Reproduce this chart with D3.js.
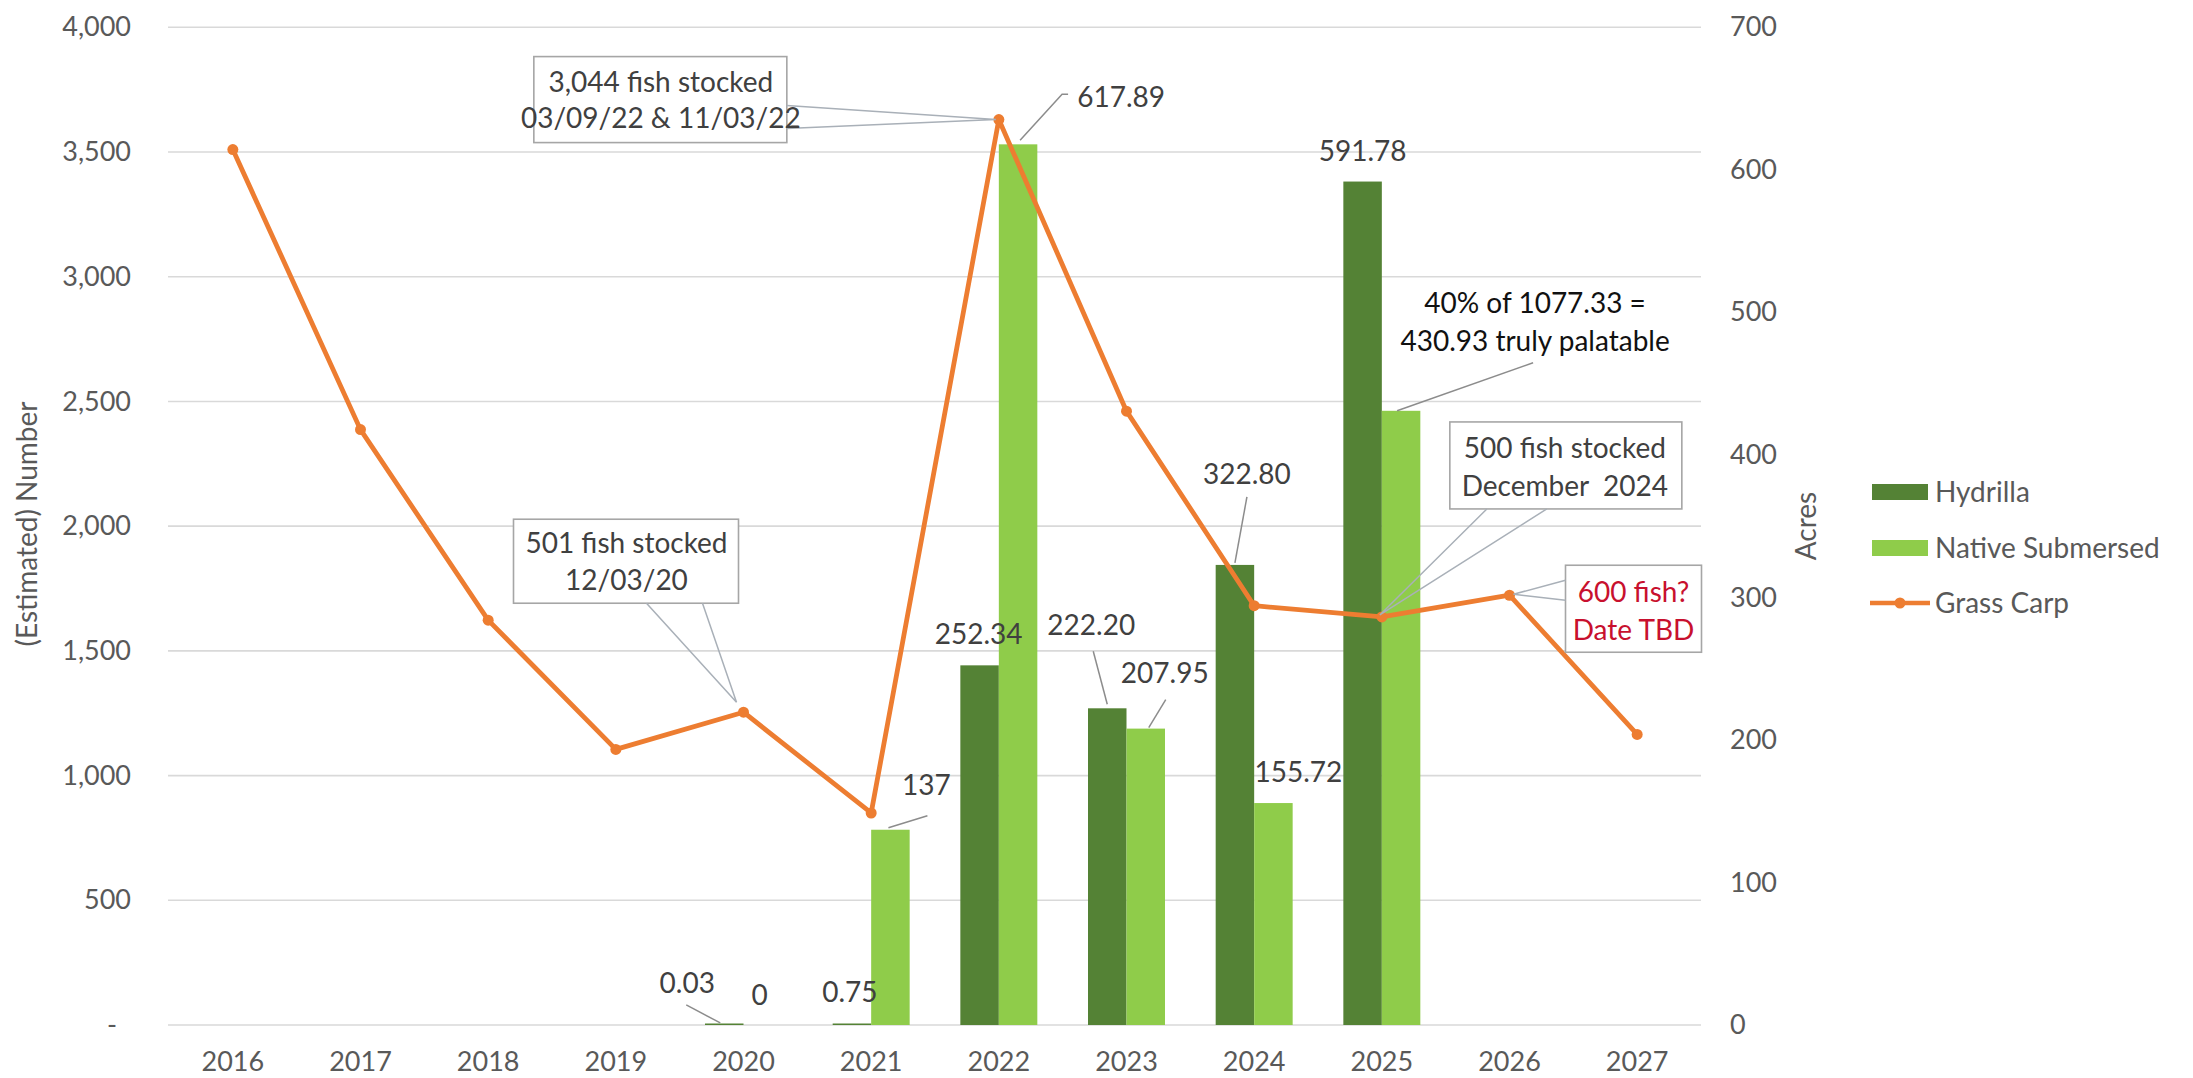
<!DOCTYPE html>
<html>
<head>
<meta charset="utf-8">
<script src="https://cdn.jsdelivr.net/npm/d3@7"></script>
<style>
  html, body { margin: 0; padding: 0; background: #ffffff; }
  svg { display: block; font-family: Lato, "Open Sans", sans-serif; }
</style>
</head>
<body>
<svg id="chart" width="2193" height="1078"></svg>
<script>
// ---- data ----
const years = ["2016", "2017", "2018", "2019", "2020", "2021", "2022", "2023", "2024", "2025", "2026", "2027"];
const hydrilla = [null, null, null, null, 0.03, 0.75, 252.34, 222.20, 322.80, 591.78, null, null];
const nativeSubmersed = [null, null, null, null, 0, 137, 617.89, 207.95, 155.72, 430.93, null, null];
const grassCarp = [3510, 2387, 1623, 1105, 1254, 850, 3630, 2461, 1681, 1636, 1723, 1165];
const numberTicks = [0, 500, 1000, 1500, 2000, 2500, 3000, 3500, 4000];
const acreTicks = [0, 100, 200, 300, 400, 500, 600, 700];
const seriesNames = ["Hydrilla", "Native Submersed", "Grass Carp"];

// ---- layout ----
const plot = { left: 169, right: 1701, top: 27.3, bottom: 1025 };
const colors = { hydrilla: "#548235", native: "#8fcc4a", carp: "#ed7d31", grid: "#d9d9d9", tick: "#595959", label: "#404040", red: "#c8102e" };

const svg = d3.select("#chart");

const x = d3.scaleBand().domain(years).range([plot.left, plot.right]).padding(0);
const bw = x.bandwidth();
const groupW = bw * 0.603;
const x1 = d3.scaleBand().domain(["hydrilla", "native"]).range([(bw - groupW) / 2, (bw + groupW) / 2]);
const yN = d3.scaleLinear().domain([0, 4000]).range([plot.bottom, plot.top]);
const yA = d3.scaleLinear().domain([0, 700]).range([plot.bottom, plot.top]);

// gridlines on the number scale
svg.append("g").selectAll("line").data(numberTicks).join("line")
  .attr("x1", plot.left - 1).attr("x2", plot.right)
  .attr("y1", d => yN(d)).attr("y2", d => yN(d))
  .attr("stroke", colors.grid).attr("stroke-width", 1.6);

// axes
function styleAxis(g) {
  g.select(".domain").remove();
  g.attr("font-family", "Lato, 'Open Sans', sans-serif").attr("font-size", 27);
  g.selectAll("text").attr("fill", colors.tick);
}
svg.append("g").attr("transform", `translate(${plot.left},0)`)
  .call(d3.axisLeft(yN).tickValues(numberTicks).tickSize(0).tickPadding(38)
    .tickFormat(d => d === 0 ? "-" : d3.format(",")(d)))
  .call(styleAxis)
  .call(g => g.selectAll(".tick text").filter(d => d === 0).attr("x", -52));

svg.append("g").attr("transform", `translate(${plot.right},0)`)
  .call(d3.axisRight(yA).tickValues(acreTicks).tickSize(0).tickPadding(29))
  .call(styleAxis);

svg.append("g").attr("transform", `translate(0,${plot.bottom})`)
  .call(d3.axisBottom(x).tickSize(0).tickPadding(27))
  .call(styleAxis);

// axis titles
svg.append("text").attr("transform", "translate(27,524) rotate(-90)")
  .attr("text-anchor", "middle").attr("dy", "0.35em")
  .attr("font-size", 28).attr("fill", colors.tick).text("(Estimated) Number");
svg.append("text").attr("transform", "translate(1806,526) rotate(-90)")
  .attr("text-anchor", "middle").attr("dy", "0.35em")
  .attr("font-size", 28).attr("fill", colors.tick).text("Acres");

// bars
const barData = years.flatMap((yr, i) => [
  { yr, key: "hydrilla", v: hydrilla[i] },
  { yr, key: "native", v: nativeSubmersed[i] }
]).filter(d => d.v != null && d.v > 0);

svg.append("g").selectAll("rect").data(barData).join("rect")
  .attr("x", d => x(d.yr) + x1(d.key))
  .attr("width", x1.bandwidth())
  .attr("y", d => Math.min(yA(d.v), plot.bottom - 1.5))
  .attr("height", d => Math.max(plot.bottom - yA(d.v), 1.5))
  .attr("fill", d => colors[d.key]);

// grass carp line
const cx = yr => x(yr) + bw / 2;
const carpPts = grassCarp.map((v, i) => [cx(years[i]), yN(v)]);
svg.append("path").datum(carpPts)
  .attr("d", d3.line())
  .attr("fill", "none").attr("stroke", colors.carp)
  .attr("stroke-width", 4.8).attr("stroke-linejoin", "round");
svg.append("g").selectAll("circle").data(carpPts).join("circle")
  .attr("cx", d => d[0]).attr("cy", d => d[1]).attr("r", 5.5)
  .attr("fill", colors.carp);

// bar value labels: offsets from the top-centre of each bar, optional leader line
const barLabels = [
  { key: "hydrilla", yr: "2020", dx: -37, dy: -42, leader: [[-38, -20], [-4, -2]] },
  { key: "native",   yr: "2020", dx: -3,  dy: -30 },
  { key: "hydrilla", yr: "2021", dx: -2,  dy: -32 },
  { key: "native",   yr: "2021", dx: 36,  dy: -45, leader: [[-2, -2], [37, -14]] },
  { key: "hydrilla", yr: "2022", dx: -1,  dy: -31 },
  { key: "native",   yr: "2022", dx: 103, dy: -47, leader: [[2, -4], [44, -50], [50, -50]] },
  { key: "hydrilla", yr: "2023", dx: -16, dy: -83, leader: [[0, -4], [-14, -57]] },
  { key: "native",   yr: "2023", dx: 19,  dy: -55, leader: [[3, -1], [20, -29]] },
  { key: "hydrilla", yr: "2024", dx: 12,  dy: -91, leader: [[0, -2], [12, -68]] },
  { key: "native",   yr: "2024", dx: 25,  dy: -31 },
  { key: "hydrilla", yr: "2025", dx: 0,   dy: -30 }
];
const valueOf = (key, yr) => (key === "hydrilla" ? hydrilla : nativeSubmersed)[years.indexOf(yr)];
const fmt = v => v === 0 ? "0" : (Number.isInteger(v) ? String(v) : v.toFixed(2));
const barTop = (key, yr) => [x(yr) + x1(key) + x1.bandwidth() / 2, yA(valueOf(key, yr))];

const lblG = svg.append("g");
barLabels.forEach(l => {
  const [bx, by] = barTop(l.key, l.yr);
  if (l.leader) {
    lblG.append("path")
      .attr("d", d3.line()(l.leader.map(p => [bx + p[0], by + p[1]])))
      .attr("fill", "none").attr("stroke", "#8c8c8c").attr("stroke-width", 1.5);
  }
  lblG.append("text").attr("x", bx + l.dx).attr("y", by + l.dy)
    .attr("text-anchor", "middle").attr("dy", "0.35em")
    .attr("font-size", 28).attr("fill", colors.label)
    .text(fmt(valueOf(l.key, l.yr)));
});

// palatable-share note on the 2025 native bar
{
  const v = valueOf("native", "2025");
  const [bx, by] = barTop("native", "2025");
  lblG.append("path")
    .attr("d", d3.line()([[bx - 4, by], [bx + 132, by - 48]]))
    .attr("fill", "none").attr("stroke", "#8c8c8c").attr("stroke-width", 1.5);
  const t = lblG.append("text").attr("text-anchor", "middle")
    .attr("font-size", 28).attr("fill", "#111111");
  t.append("tspan").attr("x", bx + 134).attr("y", by - 107.6).attr("dy", "0.35em").text("40% of 1077.33 =");
  t.append("tspan").attr("x", bx + 134).attr("y", by - 69.6).attr("dy", "0.35em").text(`${v.toFixed(2)} truly palatable`);
}

// stocking callouts attached to grass carp points (box and wedge relative to the point)
const callouts = [
  { yr: "2020", lines: ["501 fish stocked", "12/03/20"], color: colors.label,
    box: [-230, -193, -5, -109], wedge: [[-97, -109], [-7, -10], [-41, -109]], tx: -117, ty: [-169, -132] },
  { yr: "2022", lines: ["3,044 fish stocked", "03/09/22 & 11/03/22"], color: colors.label,
    box: [-465, -63, -212, 23], wedge: [[-212, -14], [-3, 0], [-212, 9]], tx: -338, ty: [-37, -1] },
  { yr: "2025", lines: ["500 fish stocked", "December  2024"], color: colors.label,
    box: [68, -195, 300, -108], wedge: [[105, -108], [-2, -2], [165, -108]], tx: 183, ty: [-169, -131] },
  { yr: "2026", lines: ["600 fish?", "Date TBD"], color: colors.red,
    box: [56, -30, 192, 57], wedge: [[56, -15], [4, -1], [56, 5]], tx: 124, ty: [-3, 35] }
];
const coG = svg.append("g");
callouts.forEach(c => {
  const i = years.indexOf(c.yr);
  const px = cx(c.yr), py = yN(grassCarp[i]);
  const [l, t, r, b] = c.box;
  coG.append("rect").attr("x", px + l).attr("y", py + t)
    .attr("width", r - l).attr("height", b - t)
    .attr("fill", "#ffffff").attr("stroke", "#a6a6a6").attr("stroke-width", 1.6);
  coG.append("path")
    .attr("d", d3.line()(c.wedge.map(p => [px + p[0], py + p[1]])))
    .attr("fill", "none").attr("stroke", "#a9b0b8").attr("stroke-width", 1.5);
  const txt = coG.append("text").attr("text-anchor", "middle")
    .attr("font-size", 28).attr("fill", c.color).style("white-space", "pre");
  c.lines.forEach((s, k) => {
    txt.append("tspan").attr("x", px + c.tx).attr("y", py + c.ty[k]).attr("dy", "0.35em").text(s);
  });
});

// legend
const legend = svg.append("g").attr("transform", "translate(1872,0)");
const legendRows = [
  { name: seriesNames[0], kind: "bar", color: colors.hydrilla, y: 492 },
  { name: seriesNames[1], kind: "bar", color: colors.native, y: 548 },
  { name: seriesNames[2], kind: "line", color: colors.carp, y: 603 }
];
legendRows.forEach(r => {
  if (r.kind === "bar") {
    legend.append("rect").attr("x", 0).attr("y", r.y - 8).attr("width", 56).attr("height", 16).attr("fill", r.color);
  } else {
    legend.append("line").attr("x1", -2).attr("x2", 58).attr("y1", r.y).attr("y2", r.y)
      .attr("stroke", r.color).attr("stroke-width", 4.5);
    legend.append("circle").attr("cx", 28).attr("cy", r.y).attr("r", 5.5).attr("fill", r.color);
  }
  legend.append("text").attr("x", 63).attr("y", r.y).attr("dy", "0.35em")
    .attr("font-size", 28).attr("fill", colors.tick).text(r.name);
});
</script>
</body>
</html>
